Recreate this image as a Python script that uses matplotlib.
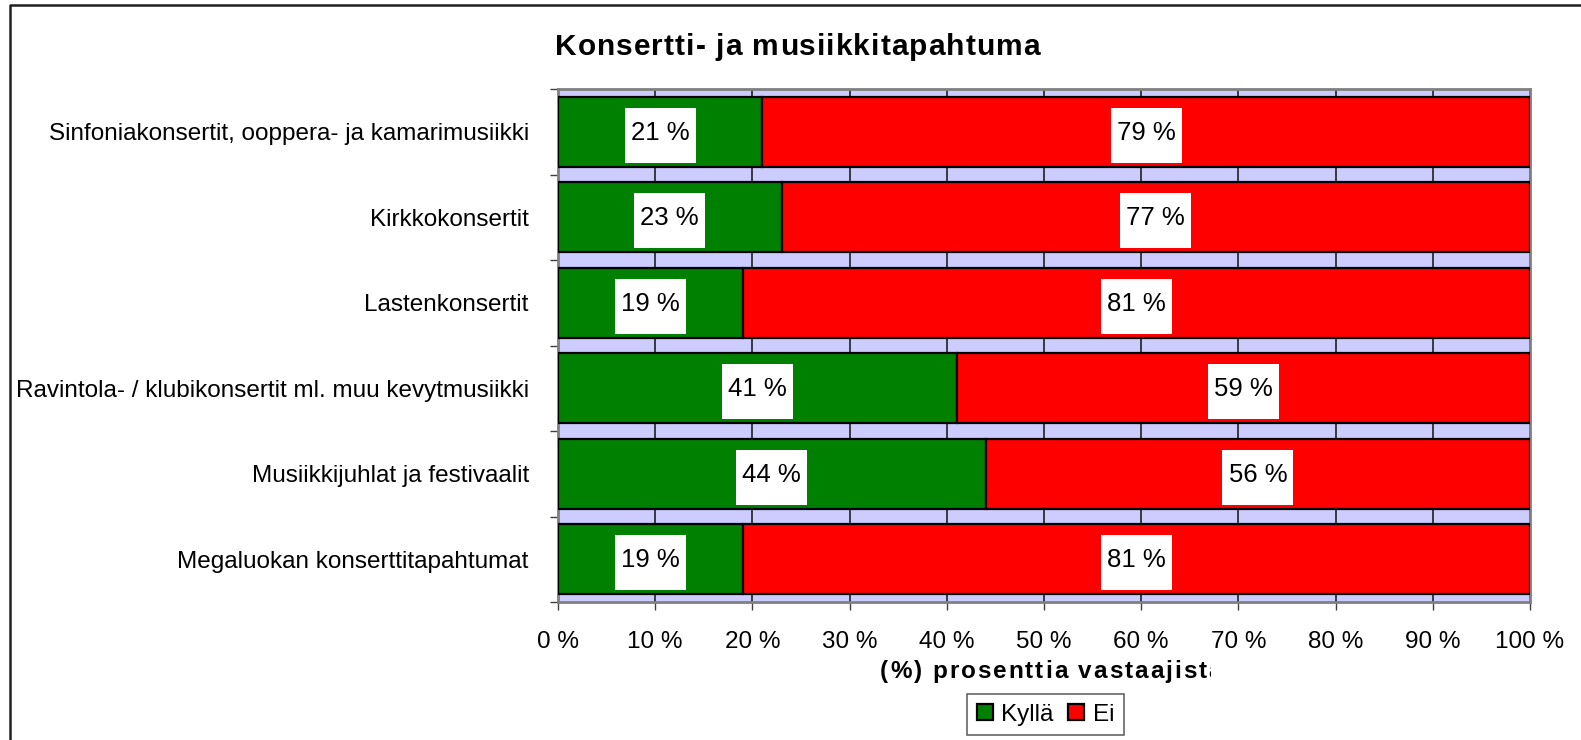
import matplotlib
matplotlib.use("Agg")
import matplotlib.pyplot as plt
from matplotlib.patches import Rectangle
from matplotlib.lines import Line2D
from matplotlib.transforms import Bbox
from matplotlib.font_manager import FontProperties
import numpy as np

plt.rcParams['font.family'] = ['Liberation Sans', 'DejaVu Sans']

title = "Konsertti- ja musiikkitapahtuma"
xlabel = "(%) prosenttia vastaajista"
categories = [
    "Sinfoniakonsertit, ooppera- ja kamarimusiikki",
    "Kirkkokonsertit",
    "Lastenkonsertit",
    "Ravintola- / klubikonsertit ml. muu kevytmusiikki",
    "Musiikkijuhlat ja festivaalit",
    "Megaluokan konserttitapahtumat",
]
series_names = ["Kyllä", "Ei"]
kylla = [21, 23, 19, 41, 44, 19]
ei = [79, 77, 81, 59, 56, 81]
xticks = [0, 10, 20, 30, 40, 50, 60, 70, 80, 90, 100]
xtick_labels = [f"{t} %" for t in xticks]

W, H = 1581, 740
fig = plt.figure(figsize=(W / 100, H / 100), dpi=100)
ax = fig.add_axes([558 / W, 1 - 602 / H, (1530 - 558) / W, (602 - 89) / H])
ax.set_facecolor('#CCCCFF')

y = np.arange(len(categories))
bh = 0.82
green = '#008000'
red = '#FF0000'
ax.barh(y, kylla, height=bh, color=green, edgecolor='black', linewidth=1.6, zorder=3, label=series_names[0])
ax.barh(y, ei, left=kylla, height=bh, color=red, edgecolor='black', linewidth=1.6, zorder=3, label=series_names[1])

ax.set_xlim(0, 100)
ax.set_ylim(len(categories) - 0.5, -0.5)

# value labels with white boxes
bw = 71 / 972 * 100
bhh = 55 / 85.5
for i in range(len(categories)):
    for left, v in ((0, kylla[i]), (kylla[i], ei[i])):
        cx = left + v / 2
        ax.add_patch(Rectangle((cx - bw / 2, i - bhh / 2 + 0.04), bw, bhh,
                               facecolor='white', edgecolor='none', zorder=4))
        ax.text(cx, i + 0.01, f"{v} %", ha='center', va='center', fontsize=18.5, zorder=5)

# grid / ticks
ax.set_xticks(xticks)
ax.set_xticklabels(xtick_labels, fontsize=17.5)
ax.xaxis.grid(True, color='#202020', linewidth=1.2, zorder=1)
ax.set_axisbelow(True)
ax.tick_params(axis='x', direction='out', length=6, width=1, color='#404040', pad=15)

ax.set_yticks(y)
ax.set_yticklabels(categories, fontsize=17.5)
ax.tick_params(axis='y', which='major', length=0, pad=21)
ax.set_yticks(np.arange(len(categories) + 1) - 0.5, minor=True)
ax.tick_params(axis='y', which='minor', direction='out', length=6, width=1, color='#404040')

for s in ax.spines.values():
    s.set_color('#808080')
    s.set_linewidth(2)

renderer = fig.canvas.get_renderer()


def spaced_text(s, x0, x1, baseline, fp, clip_x=None):
    """Draw text letter-spaced so that it spans from x0 to x1 (pixels)."""
    def w(t):
        return renderer.get_text_width_height_descent(t, fp, ismath=False)[0]
    ref = w('I')
    natural = w(s + 'I') - ref
    sp = (x1 - x0 - natural) / (len(s) - 1)
    for i, ch in enumerate(s):
        if ch == ' ':
            continue
        xi = x0 + (w(s[:i] + 'I') - ref) + i * sp
        t = fig.text(xi / W, baseline / H, ch, fontproperties=fp, ha='left', va='baseline')
        if clip_x is not None:
            t.set_clip_box(Bbox([[0, 0], [clip_x, H]]))
            t.set_clip_on(True)


# title (baseline 55 px from top)
fp_title = FontProperties(family=['Liberation Sans'], weight='bold', size=21.5)
spaced_text(title, 555, 1040, H - 55, fp_title)

# x label (clipped as in the original)
fp_xl = FontProperties(family=['Liberation Sans'], weight='bold', size=17.5)
spaced_text(xlabel, 880, 1222, H - 678, fp_xl, clip_x=1211)

# legend
leg = fig.legend(loc='upper left', bbox_to_anchor=(967 / W, 1 - 694 / H), ncol=2,
                 fontsize=17.5, frameon=True, fancybox=False, edgecolor='#404040',
                 handlelength=0.66, handleheight=0.66, handletextpad=0.35, columnspacing=0.6,
                 borderpad=0.4, borderaxespad=0)
leg.get_frame().set_linewidth(1.2)

# outer border
fig.add_artist(Line2D([10 / W, 10 / W, 1.0], [0, 1 - 5 / H, 1 - 5 / H],
                      transform=fig.transFigure, color='#202020', linewidth=1.8))

fig.savefig('out.png', dpi=100)
